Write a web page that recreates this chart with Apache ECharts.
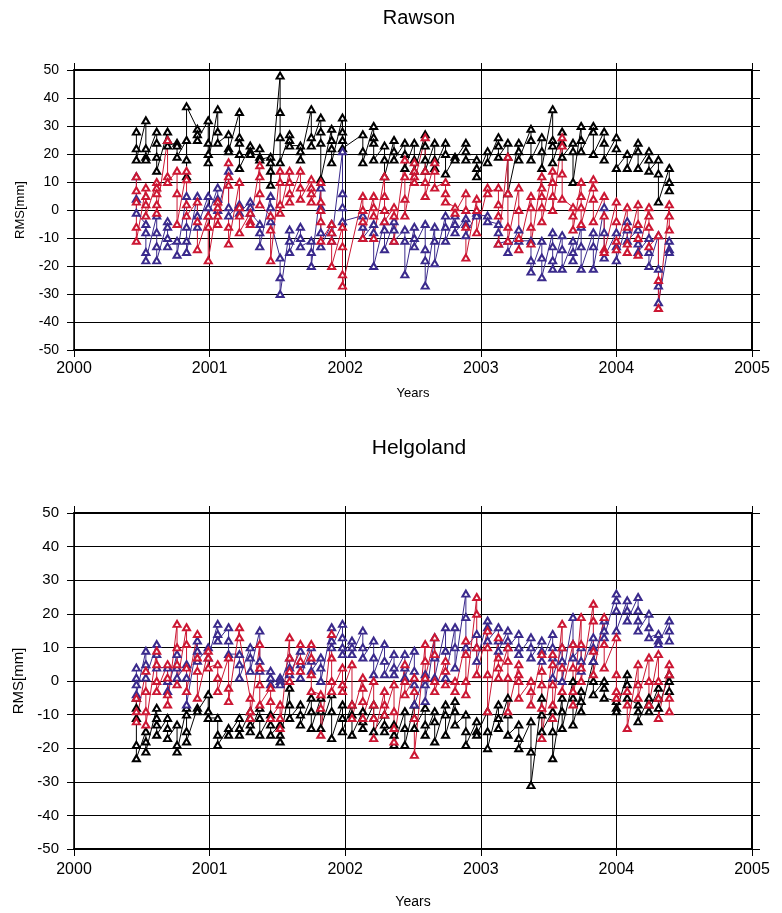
<!DOCTYPE html>
<html>
<head>
<meta charset="utf-8">
<title>RMS time series</title>
<script src="https://cdn.jsdelivr.net/npm/echarts@6/dist/echarts.min.js"></script>
<style>
  html, body { margin: 0; padding: 0; background: #fff; }
  #chart { width: 782px; height: 913px; }
</style>
</head>
<body>
<div id="chart"></div>
<script>
// Observation epochs (decimal years); every series has one group of values per epoch.
const epochs = [
  2000.46, 2000.53, 2000.61, 2000.69, 2000.76, 2000.83, 2000.91, 2000.99, 2001.06, 2001.14,
  2001.22, 2001.30, 2001.37, 2001.45, 2001.52, 2001.59, 2001.67, 2001.75, 2001.82, 2001.90,
  2001.98, 2002.05, 2002.13, 2002.21, 2002.29, 2002.36, 2002.44, 2002.51, 2002.59, 2002.66,
  2002.74, 2002.81, 2002.89, 2002.97, 2003.05, 2003.13, 2003.20, 2003.28, 2003.37, 2003.45,
  2003.53, 2003.60, 2003.68, 2003.74, 2003.83, 2003.91, 2004.00, 2004.08, 2004.16, 2004.24,
  2004.31, 2004.39
];

const yearTicks = [2000, 2001, 2002, 2003, 2004, 2005];
const rmsTicks = [-50, -40, -30, -20, -10, 0, 10, 20, 30, 40, 50];

// Rawson, values in mm
const rawsonBlack = [
  [28, 22, 18], [32, 22, 19, 18], [28, 24, 19, 14], [28, 25, 23], [24, 23, 19],
  [25, 18, 12, 37], [29, 27, 25], [32, 24, 20, 17], [36, 28, 24], [27, 22, 21],
  [35, 26, 24, 20, 15], [23, 21, 20], [22, 19, 18], [19, 17, 14, 9], [48, 35, 26, 17],
  [27, 25, 23], [23, 21, 18], [36, 26, 23], [33, 28, 24, 11], [29, 25, 22, 17],
  [33, 28, 25, 22], [], [27, 21, 17], [30, 26, 24, 18], [23, 18, 12],
  [25, 21, 18], [24, 20, 15], [24, 18, 14], [27, 23, 18, 14], [24, 18, 15],
  [24, 20, 13], [19, 18], [24, 21, 18], [18, 15, 12], [21, 17],
  [26, 23, 19], [24, 19, 6], [24, 21, 18], [29, 25, 18], [26, 21, 15],
  [36, 25, 23, 17], [28, 24, 19], [24, 21, 10], [30, 25, 21], [30, 28, 20],
  [28, 24, 18], [26, 22, 15], [20, 15], [24, 21, 15], [21, 18, 14],
  [18, 13, 3], [15, 10, 7]
];
const rawsonRed = [
  [12, 7, 3, -6, -11], [8, 5, 2, -2], [10, 8, 6, 2, -1], [25, 12, 10], [14, 6, -5],
  [14, 11, 2, -2], [3, -4, -14], [-2, -6, -18], [3, 1, -2, -5], [17, 12, 9, -6, -12],
  [10, 1, -2, -8], [-1, -4, -5], [16, 12, 6, 2], [-2, -7, -18], [14, 10, 2, -1],
  [14, 10, 6, 3], [14, 8, 4], [11, 8, 6, 3], [10, 3, 0, -4, -11], [-5, -8, -11, -20],
  [-6, -13, -23, -27], [], [5, 0, -4, -10], [5, 1, -2, -10], [12, 5, 0, -4],
  [1, -2, -11], [18, 12, 4, -2], [17, 14, 12, 10], [26, 14, 10, 5], [17, 14, 8],
  [10, 6, 3], [1, -1], [6, 0, -6, -17], [4, 0, -8], [8, 6],
  [8, 2, -2, -12], [19, 6, -6, -11], [8, 0, -10, -14], [5, 1, -6, -12], [12, 8, 5, 1, -4],
  [14, 10, 5, 0], [26, 23, 13, 4], [1, -2, -7], [10, 5, 1, -5], [11, 8, 4, -4],
  [5, -2, -14, -15], [3, -4, -11, -14], [1, -6, -12, -15], [2, -5, -10, -16], [1, -2, -6, -13],
  [-9, -25, -35], [2, -2, -7]
];
const rawsonBlue = [
  [12, 4, -1], [-5, -8, -15, -18], [-2, -8, -13, -18], [-4, -6, -10, -13], [-11, -16],
  [5, -6, -11, -15], [5, -2, -6], [5, 1, -2], [8, 4, 0], [14, 1, -2],
  [2, 1, -1], [3, 1, -1], [-5, -8, -13], [5, 1, -4], [-17, -24, -30],
  [-7, -11, -15], [-6, -10, -13], [-11, -15, -20], [8, 1, -8, -13], [-5, -8, -11],
  [21, 6, 1, -4], [], [-2, -6, -10], [-5, -8, -20], [-4, -7, -14],
  [-4, -7, -11], [-7, -11, -23], [-6, -10, -13], [-5, -14, -18, -27], [-6, -11, -19],
  [-2, -6, -11], [-2, -5, -8], [-3, -5, -9], [-1, -2], [-2, -4],
  [-5, -8, -12], [-11, -15], [-7, -11], [-11, -18, -22], [-11, -17, -24],
  [-8, -13, -18, -21], [-9, -14, -21], [-11, -15, -18], [-6, -13, -21], [-8, -13, -21],
  [1, -8, -17], [-8, -13, -18], [-4, -7, -11], [-7, -12, -15], [-10, -15, -20],
  [-9, -21, -27, -33], [-11, -14, -15]
];

// Helgoland, values in mm
const helgolandBlack = [
  [-5, -8, -11, -19, -23], [-15, -18, -21], [-8, -11, -13, -16], [-11, -14, -17], [-13, -19, -21],
  [-8, -10, -15, -18], [-8, -9], [-4, -9, -11], [-11, -16, -19], [-14, -16],
  [-11, -14, -16], [-9, -13, -15], [-8, -11, -16], [-10, -13, -16], [-13, -16, -18],
  [-2, -7, -11], [-7, -10, -13], [-5, -9, -14], [-5, -9, -14], [-4, -9, -17],
  [-7, -11, -15], [-7, -10, -16], [-9, -12, -14], [-7, -11, -15], [-10, -13, -15],
  [-13, -16, -19], [-9, -14, -19], [-7, -11, -14], [-8, -13, -16], [-9, -12, -18],
  [-7, -10, -16], [-6, -9, -13], [-10, -15, -19], [-12, -15, -16], [-9, -15, -20],
  [-7, -11, -14], [-5, -10, -16], [-13, -17, -20], [-12, -21, -31], [-5, -10, -15],
  [-9, -15, -23], [-5, -9, -14], [0, -5, -13], [-3, -6, -9], [6, 0, -4],
  [0, -2, -5], [-6, -8, -9], [2, -1, -5], [-7, -9, -12], [-5, -7, -9],
  [-2, -5, -8], [2, 0, -3]
];
const helgolandRed = [
  [-5, -9, -12], [3, -3, -9, -13], [9, 5, 0, -3], [5, 1, -4, -7], [17, 10, 5, -1],
  [16, 11, 4, -3], [14, 7, 3, -5], [9, 7, 4], [5, 1, -3], [7, -2, -6],
  [16, 13], [-5, -9, -11], [11, 4, -1, -7], [-2, -6, -11], [-7, -11, -14],
  [13, 7, 3, 0], [11, 6, 3], [11, 7, 2, -3], [-4, -8, -16], [14, 7, 0, -3],
  [4, -1, -3], [5, -7, -11], [1, -2, -6, -11], [0, -7, -11, -17], [-3, -7, -10],
  [-1, -9, -14, -18], [5, 0, -4], [1, -3, -11, -22], [11, 6, 1], [13, 8, 0, -3],
  [6, 3, -1], [0, -3], [12, 8, 0, -4], [25, 20, 10, 2], [15, 10, 2, -9],
  [13, 7, 4, 1], [10, 6, 1, -9], [5, 2, 0, -5], [0, -3, -7], [8, 3, -1, -8, -17],
  [8, 5, -1, -7, -11], [17, 10, 4, -3], [11, 4, -3, -7], [19, 11, 4, 0], [23, 18, 9, 2],
  [19, 11, 4], [13, 2, -3, -5], [-3, -7, -14], [5, -1, -5], [7, 0, -7],
  [8, 0, -5, -11], [5, 2, -5, -9]
];
const helgolandBlue = [
  [4, 1, -1, -4], [9, 5, 1], [11, 8, 4], [4, 0, -3], [8, 4, 1],
  [5, 1, -7], [12, 9, 6], [10, 7], [17, 14, 12], [16, 12, 8],
  [8, 5, 1], [10, 7, 3], [15, 6, 3], [3, 1, -1], [1, 0, -1],
  [7, 4, 2], [9, 5, 1], [10, 6, 3], [7, 4, 0], [16, 12, 10],
  [17, 13, 10, 8], [12, 10, 8], [15, 10, 7], [12, 7, 2], [11, 6, 2],
  [8, 4, 2], [8, 4, 1], [9, 3, -1, -7], [2, -1, -6], [13, 7, 1],
  [16, 9, 1], [16, 10, 4], [26, 19, 10], [14, 10, 6], [18, 16, 12],
  [16, 12, 9], [15, 12, 10], [14, 10, 8], [13, 10, 7], [12, 9, 6],
  [14, 10, 7, 1], [10, 6, 0], [19, 11, 7], [10, 6, 3], [13, 10, 6],
  [18, 15, 13], [26, 24, 21, 15], [24, 21, 18], [25, 21, 18, 15], [20, 16, 13],
  [14, 12, 11], [18, 15, 12]
];

const BLACK = '#000000';
const RED = '#cc1733';
const BLUE = '#3a2a8c';
const FONT = '"Liberation Sans", Arial, Helvetica, sans-serif';

// Flatten the per-epoch groups into [year, value] pairs in observation order.
function toPoints(groups) {
  const pts = [];
  groups.forEach((vals, i) => vals.forEach(v => pts.push([epochs[i], v])));
  return pts;
}

function lineSeries(name, groups, color, axisIdx) {
  return {
    name: name,
    type: 'line',
    xAxisIndex: axisIdx.x,
    yAxisIndex: axisIdx.y,
    data: toPoints(groups),
    symbol: 'emptyTriangle',
    symbolSize: [7, 6],
    showAllSymbol: true,
    lineStyle: { color: color, width: 1 },
    itemStyle: { color: color, borderColor: color, borderWidth: 1 },
    emphasis: { disabled: true },
    animation: false
  };
}

function mainX(gridIndex, labelMargin, nameGap, labelSize, nameSize) {
  return {
    gridIndex: gridIndex, type: 'value', position: 'bottom',
    min: yearTicks[0], max: yearTicks[yearTicks.length - 1], interval: 1,
    axisLine: { show: true, onZero: false, lineStyle: { color: BLACK, width: 2 } },
    axisTick: { show: true, length: 7, lineStyle: { color: BLACK, width: 1 } },
    axisLabel: { color: BLACK, fontSize: labelSize, fontFamily: FONT, margin: labelMargin,
                 formatter: v => String(v) },
    splitLine: { show: true, lineStyle: { color: BLACK, width: 1 } },
    name: 'Years', nameLocation: 'middle', nameGap: nameGap,
    nameTextStyle: { color: BLACK, fontSize: nameSize, fontFamily: FONT }
  };
}
function frameX(gridIndex) {
  return {
    gridIndex: gridIndex, type: 'value', position: 'top',
    min: yearTicks[0], max: yearTicks[yearTicks.length - 1], interval: 1,
    axisLine: { show: true, onZero: false, lineStyle: { color: BLACK, width: 2 } },
    axisTick: { show: true, length: 7, lineStyle: { color: BLACK, width: 1 } },
    axisLabel: { show: false }, splitLine: { show: false }
  };
}
function mainY(gridIndex, labelSize, nameGap, nameSize) {
  return {
    gridIndex: gridIndex, type: 'value', position: 'left',
    min: rmsTicks[0], max: rmsTicks[rmsTicks.length - 1], interval: 10,
    axisLine: { show: true, onZero: false, lineStyle: { color: BLACK, width: 1.5 } },
    axisTick: { show: true, length: 7, lineStyle: { color: BLACK, width: 1 } },
    axisLabel: { color: BLACK, fontSize: labelSize, fontFamily: FONT, margin: 15,
                 formatter: v => String(v) },
    splitLine: { show: true, lineStyle: { color: BLACK, width: 1 } },
    name: 'RMS[mm]', nameLocation: 'middle', nameGap: nameGap, nameRotate: 90,
    nameTextStyle: { color: BLACK, fontSize: nameSize, fontFamily: FONT }
  };
}
function frameY(gridIndex) {
  return {
    gridIndex: gridIndex, type: 'value', position: 'right',
    min: rmsTicks[0], max: rmsTicks[rmsTicks.length - 1], interval: 10,
    axisLine: { show: true, onZero: false, lineStyle: { color: BLACK, width: 2 } },
    axisTick: { show: true, length: 8, lineStyle: { color: BLACK, width: 1 } },
    axisLabel: { show: false }, splitLine: { show: false }
  };
}

const chart = echarts.init(document.getElementById('chart'), null, { renderer: 'canvas' });

const upperAxes = { x: 0, y: 0 };
const lowerAxes = { x: 2, y: 2 };

chart.setOption({
  backgroundColor: '#ffffff',
  animation: false,
  title: [
    { text: 'Rawson', left: 414, top: 3, textAlign: 'center',
      textStyle: { color: BLACK, fontSize: 20, fontWeight: 'normal', fontFamily: FONT } },
    { text: 'Helgoland', left: 414, top: 433, textAlign: 'center',
      textStyle: { color: BLACK, fontSize: 21, fontWeight: 'normal', fontFamily: FONT } }
  ],
  grid: [
    { left: 74, right: 30, top: 70, height: 280 },
    { left: 74, right: 30, top: 513, height: 336 }
  ],
  xAxis: [
    mainX(0, 11, 37, 16, 13), frameX(0),
    mainX(1, 13, 46, 16, 14), frameX(1)
  ],
  yAxis: [
    mainY(0, 14, 47, 13), frameY(0),
    mainY(1, 15, 47, 15), frameY(1)
  ],
  series: [
    lineSeries('Rawson A', rawsonBlack, BLACK, upperAxes),
    lineSeries('Rawson C', rawsonBlue, BLUE, upperAxes),
    lineSeries('Rawson B', rawsonRed, RED, upperAxes),
    lineSeries('Helgoland A', helgolandBlack, BLACK, lowerAxes),
    lineSeries('Helgoland C', helgolandBlue, BLUE, lowerAxes),
    lineSeries('Helgoland B', helgolandRed, RED, lowerAxes)
  ]
});
</script>
</body>
</html>
